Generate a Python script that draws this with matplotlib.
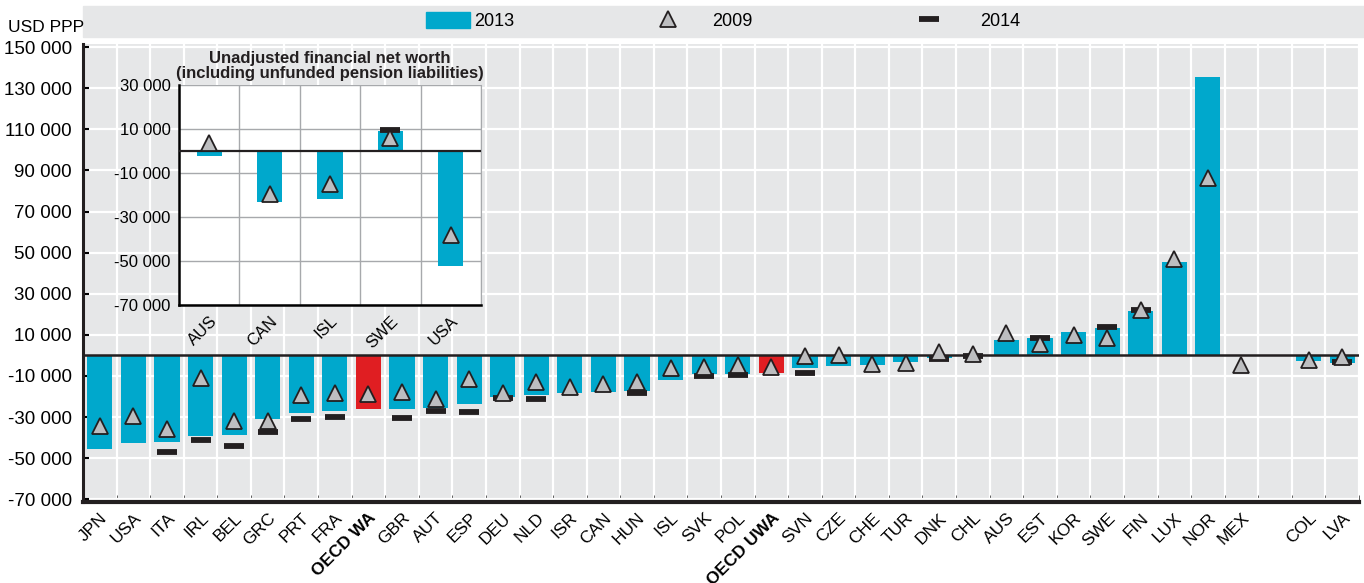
import numpy as np
import matplotlib
matplotlib.use("Agg")
import matplotlib.pyplot as plt
from matplotlib.patches import Rectangle
from matplotlib.lines import Line2D
from matplotlib.ticker import FuncFormatter

plt.rcParams['font.family'] = ['Liberation Sans Narrow', 'Liberation Sans', 'DejaVu Sans']

nan = np.nan

# main chart data (USD PPP)
labels = ["JPN", "USA", "ITA", "IRL", "BEL", "GRC", "PRT", "FRA", "OECD WA", "GBR",
          "AUT", "ESP", "DEU", "NLD", "ISR", "CAN", "HUN", "ISL", "SVK", "POL",
          "OECD UWA", "SVN", "CZE", "CHE", "TUR", "DNK", "CHL", "AUS", "EST", "KOR",
          "SWE", "FIN", "LUX", "NOR", "MEX", "", "COL", "LVA"]
v2013 = [-45400, -42400, -41900, -39200, -38500, -30800, -27800, -26900, -25900, -26000,
         -25400, -23500, -20100, -19100, -18100, -17600, -17300, -11800, -8900, -8900,
         -8400, -5900, -5000, -4500, -3000, -1300, -400, 7500, 8500, 11400,
         13400, 21700, 45500, 135500, nan, nan, -2500, -3500]
v2009 = [-34200, -29400, -35600, -10800, -32000, -31700, -19200, -18300, -18700, -17800,
         -21000, -11400, -18100, -12800, -15200, -14000, -12800, -6100, -5700, -4600,
         -5500, -300, 100, -4100, -3500, 1800, 600, 11100, 5700, 9800,
         8700, 22300, 46800, 86200, -4600, nan, -2000, -900]
v2014 = [nan, nan, -47000, -41100, -44000, -37400, -31000, -30100, nan, -30600,
         -27200, -27600, -20700, -21200, nan, nan, -18400, nan, -9800, -9700,
         nan, -8700, nan, nan, nan, -1600, -400, nan, 8300, nan,
         14000, 22100, nan, nan, nan, nan, nan, -3300]
highlight = ["OECD WA", "OECD UWA"]

# inset data
ins_labels = ["AUS", "CAN", "ISL", "SWE", "USA"]
ins_2013 = [-2300, -23200, -21800, 8900, -52300]
ins_2009 = [3600, -19400, -15100, 6100, -38200]
ins_2014 = [nan, nan, nan, 9700, nan]

BLUE = "#00a8cc"
RED = "#e01e22"
BG = "#e6e7e8"
TRI = "#bdbec0"
DARK = "#231f20"

fmt = FuncFormatter(lambda v, p: f"{v:,.0f}".replace(",", " "))

fig = plt.figure(figsize=(13.64, 5.83), dpi=100)
W, H = 1364, 583

ax = fig.add_axes([83 / W, 1 - 502 / H, (1359 - 83) / W, (502 - 44) / H])
ax.set_facecolor(BG)
x = np.arange(len(labels))
colors = [RED if l in highlight else BLUE for l in labels]
ax.bar(x, v2013, width=0.75, color=colors, zorder=2)
ax.axhline(0, color=DARK, lw=1.8, zorder=3)
ax.plot(x, v2014, ls="none", marker="_", ms=14.5, mew=4.2, color=DARK, zorder=4)
ax.plot(x, v2009, ls="none", marker="^", ms=11, mfc=TRI, mec=DARK, mew=1.3, zorder=5)

ax.set_xlim(-0.5, len(labels) - 0.5)
ax.set_ylim(-71300, 151500)
ax.set_yticks(np.arange(-70000, 150001, 20000))
ax.yaxis.set_major_formatter(fmt)
ax.set_xticks(x)
ax.set_xticklabels(labels, rotation=45, ha="right", rotation_mode="anchor", fontsize=12.5)
for t in ax.get_xticklabels():
    if t.get_text() in highlight:
        t.set_fontweight("bold")
ax.set_xticks(np.arange(-0.5, len(labels) - 0.4, 1), minor=True)
ax.tick_params(axis="x", which="major", length=0, pad=6)
ax.tick_params(axis="x", which="minor", direction="in", length=5, color="#444444")
ax.tick_params(axis="y", direction="in", length=4, width=1.5, labelsize=13.5, pad=8)
ax.grid(axis="y", color="white", lw=1.6, zorder=0)
ax.grid(axis="x", which="minor", color="white", lw=1.6, zorder=0)
ax.set_axisbelow(True)
for s in ["top", "right"]:
    ax.spines[s].set_visible(False)
ax.spines["left"].set_linewidth(2.2)
ax.spines["bottom"].set_linewidth(3)
ax.spines["left"].set_color(DARK)
ax.spines["bottom"].set_color(DARK)

# legend band
fig.patches.append(Rectangle((83 / W, 1 - 37 / H), 1 - 83 / W, 31 / H,
                             transform=fig.transFigure, color=BG, zorder=0))
handles = [Rectangle((0, 0), 1, 1, color=BLUE),
           Line2D([], [], ls="none", marker="^", ms=11, mfc=TRI, mec=DARK, mew=1.3),
           Line2D([], [], ls="none", marker="_", ms=14.5, mew=4.2, color=DARK)]
leg_names = ["2013", "2009", "2014"]
leg_left = [426, 646, 907]
leg_pad = [0.2, 1.2, 1.6]
for h, n, lx, pd in zip(handles, leg_names, leg_left, leg_pad):
    fig.legend([h], [n], frameon=False, loc="center left",
               bbox_to_anchor=(lx / W, 1 - 21 / H), fontsize=13,
               borderpad=0, borderaxespad=0, handlelength=2.44, handleheight=0.95,
               handletextpad=pd)
fig.text(8 / W, 1 - 28 / H, "USD PPP", fontsize=12.5, va="center", ha="left")

# inset
ins = fig.add_axes([179 / W, 1 - 305 / H, 302 / W, 220 / H])
ins.set_facecolor("white")
xi = np.arange(len(ins_labels))
ins.bar(xi, ins_2013, width=0.42, color=BLUE, zorder=2)
ins.axhline(0, color=DARK, lw=1.6, zorder=3)
ins.plot(xi, ins_2014, ls="none", marker="_", ms=14, mew=4.2, color=DARK, zorder=4)
ins.plot(xi, ins_2009, ls="none", marker="^", ms=11, mfc=TRI, mec=DARK, mew=1.3, zorder=5)
ins.set_xlim(-0.5, len(ins_labels) - 0.5)
ins.set_ylim(-70000, 30000)
ins.set_yticks([-70000, -50000, -30000, -10000, 10000, 30000])
ins.yaxis.set_major_formatter(fmt)
ins.set_xticks(xi)
ins.set_xticklabels(ins_labels, rotation=45, ha="right", rotation_mode="anchor", fontsize=12)
ins.set_xticks(np.arange(0.5, len(ins_labels), 1), minor=True)
ins.tick_params(axis="x", which="major", length=0, pad=6)
ins.tick_params(axis="x", which="minor", length=0)
ins.tick_params(axis="y", length=0, labelsize=12, pad=6)
ins.grid(axis="y", color="#a7a9ac", lw=1.0, zorder=0)
ins.grid(axis="x", which="minor", color="#a7a9ac", lw=1.0, zorder=0)
ins.set_axisbelow(True)
ins.spines["top"].set_visible(False)
ins.spines["right"].set_color("#a7a9ac")
ins.spines["left"].set_linewidth(1.8)
ins.spines["bottom"].set_linewidth(1.8)
ins.set_title("Unadjusted financial net worth\n(including unfunded pension liabilities)",
              fontsize=12, fontweight="bold", linespacing=1.0, pad=5, color=DARK)

fig.savefig("out.png", dpi=100)
